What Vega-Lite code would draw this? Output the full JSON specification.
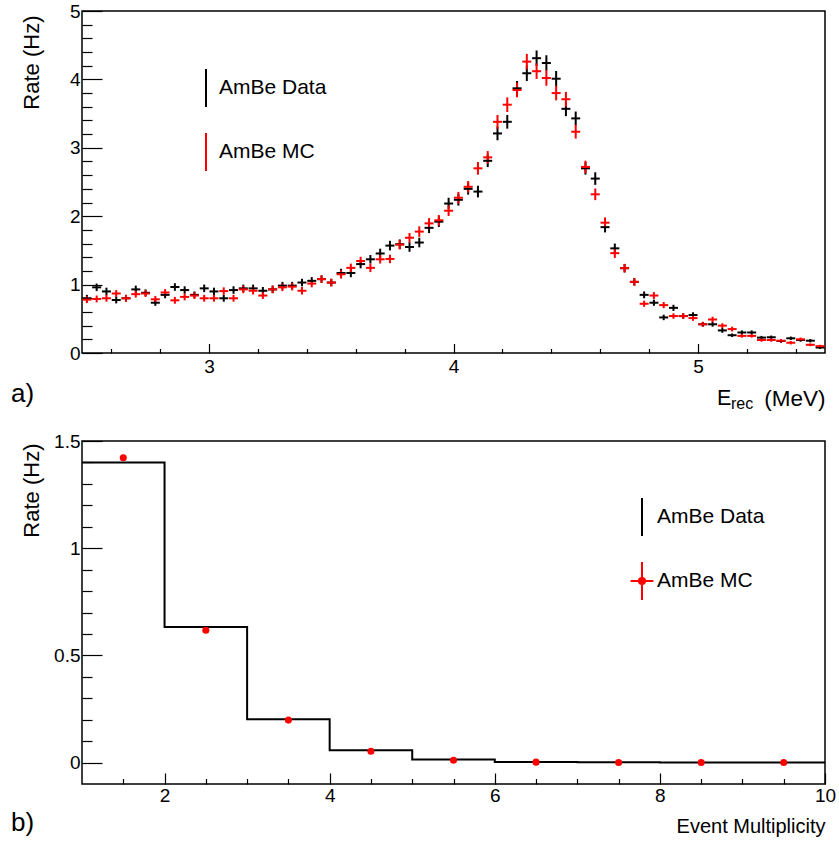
{
  "$schema": "https://vega.github.io/schema/vega-lite/v6.json",
  "padding": {"left": 10, "top": 1, "right": 2, "bottom": 2},
  "spacing": 18,
  "config": {
    "font": "Liberation Sans",
    "view": {"stroke": "#000000", "strokeWidth": 1.5},
    "axis": {"grid": false, "domain": false, "labelColor": "#000000", "labelFontSize": 19, "labelFont": "Liberation Sans", "titleFont": "Liberation Sans", "titleFontSize": 21, "titleFontWeight": "normal", "titleColor": "#000000", "tickColor": "#000000", "tickWidth": 1.2, "labelFlush": false, "labelOverlap": false, "labelBound": false, "tickCount": 200},
    "legend": {"labelFont": "Liberation Sans"}
  },
  "resolve": {"scale": {"color": "independent"}, "legend": {"color": "independent"}},
  "datasets": {
    "energy": [
      {"E":2.50,"rate":0.80,"err":0.05,"series":"AmBe Data"},
      {"E":2.54,"rate":0.96,"err":0.055,"series":"AmBe Data"},
      {"E":2.58,"rate":0.90,"err":0.055,"series":"AmBe Data"},
      {"E":2.62,"rate":0.775,"err":0.05,"series":"AmBe Data"},
      {"E":2.66,"rate":0.80,"err":0.05,"series":"AmBe Data"},
      {"E":2.70,"rate":0.93,"err":0.055,"series":"AmBe Data"},
      {"E":2.74,"rate":0.88,"err":0.05,"series":"AmBe Data"},
      {"E":2.78,"rate":0.735,"err":0.045,"series":"AmBe Data"},
      {"E":2.82,"rate":0.85,"err":0.05,"series":"AmBe Data"},
      {"E":2.86,"rate":0.965,"err":0.055,"series":"AmBe Data"},
      {"E":2.90,"rate":0.92,"err":0.055,"series":"AmBe Data"},
      {"E":2.94,"rate":0.85,"err":0.05,"series":"AmBe Data"},
      {"E":2.98,"rate":0.945,"err":0.055,"series":"AmBe Data"},
      {"E":3.02,"rate":0.90,"err":0.055,"series":"AmBe Data"},
      {"E":3.06,"rate":0.80,"err":0.05,"series":"AmBe Data"},
      {"E":3.10,"rate":0.92,"err":0.055,"series":"AmBe Data"},
      {"E":3.14,"rate":0.945,"err":0.055,"series":"AmBe Data"},
      {"E":3.18,"rate":0.945,"err":0.055,"series":"AmBe Data"},
      {"E":3.22,"rate":0.91,"err":0.055,"series":"AmBe Data"},
      {"E":3.26,"rate":0.93,"err":0.055,"series":"AmBe Data"},
      {"E":3.30,"rate":0.985,"err":0.055,"series":"AmBe Data"},
      {"E":3.34,"rate":0.985,"err":0.055,"series":"AmBe Data"},
      {"E":3.38,"rate":1.03,"err":0.055,"series":"AmBe Data"},
      {"E":3.42,"rate":1.055,"err":0.055,"series":"AmBe Data"},
      {"E":3.46,"rate":1.08,"err":0.055,"series":"AmBe Data"},
      {"E":3.50,"rate":1.03,"err":0.055,"series":"AmBe Data"},
      {"E":3.54,"rate":1.17,"err":0.062,"series":"AmBe Data"},
      {"E":3.58,"rate":1.17,"err":0.062,"series":"AmBe Data"},
      {"E":3.62,"rate":1.30,"err":0.062,"series":"AmBe Data"},
      {"E":3.66,"rate":1.37,"err":0.062,"series":"AmBe Data"},
      {"E":3.70,"rate":1.455,"err":0.07,"series":"AmBe Data"},
      {"E":3.74,"rate":1.57,"err":0.07,"series":"AmBe Data"},
      {"E":3.78,"rate":1.59,"err":0.07,"series":"AmBe Data"},
      {"E":3.82,"rate":1.55,"err":0.07,"series":"AmBe Data"},
      {"E":3.86,"rate":1.615,"err":0.07,"series":"AmBe Data"},
      {"E":3.90,"rate":1.83,"err":0.077,"series":"AmBe Data"},
      {"E":3.94,"rate":1.92,"err":0.077,"series":"AmBe Data"},
      {"E":3.98,"rate":2.185,"err":0.085,"series":"AmBe Data"},
      {"E":4.02,"rate":2.24,"err":0.085,"series":"AmBe Data"},
      {"E":4.06,"rate":2.40,"err":0.085,"series":"AmBe Data"},
      {"E":4.10,"rate":2.36,"err":0.085,"series":"AmBe Data"},
      {"E":4.14,"rate":2.81,"err":0.092,"series":"AmBe Data"},
      {"E":4.18,"rate":3.21,"err":0.1,"series":"AmBe Data"},
      {"E":4.22,"rate":3.38,"err":0.1,"series":"AmBe Data"},
      {"E":4.26,"rate":3.87,"err":0.107,"series":"AmBe Data"},
      {"E":4.30,"rate":4.09,"err":0.113,"series":"AmBe Data"},
      {"E":4.34,"rate":4.31,"err":0.113,"series":"AmBe Data"},
      {"E":4.38,"rate":4.24,"err":0.113,"series":"AmBe Data"},
      {"E":4.42,"rate":4.01,"err":0.113,"series":"AmBe Data"},
      {"E":4.46,"rate":3.57,"err":0.107,"series":"AmBe Data"},
      {"E":4.50,"rate":3.43,"err":0.1,"series":"AmBe Data"},
      {"E":4.54,"rate":2.70,"err":0.092,"series":"AmBe Data"},
      {"E":4.58,"rate":2.55,"err":0.092,"series":"AmBe Data"},
      {"E":4.62,"rate":1.84,"err":0.077,"series":"AmBe Data"},
      {"E":4.66,"rate":1.53,"err":0.07,"series":"AmBe Data"},
      {"E":4.70,"rate":1.24,"err":0.062,"series":"AmBe Data"},
      {"E":4.74,"rate":1.04,"err":0.055,"series":"AmBe Data"},
      {"E":4.78,"rate":0.85,"err":0.05,"series":"AmBe Data"},
      {"E":4.82,"rate":0.735,"err":0.045,"series":"AmBe Data"},
      {"E":4.86,"rate":0.52,"err":0.04,"series":"AmBe Data"},
      {"E":4.90,"rate":0.66,"err":0.045,"series":"AmBe Data"},
      {"E":4.94,"rate":0.54,"err":0.04,"series":"AmBe Data"},
      {"E":4.98,"rate":0.555,"err":0.04,"series":"AmBe Data"},
      {"E":5.02,"rate":0.42,"err":0.035,"series":"AmBe Data"},
      {"E":5.06,"rate":0.42,"err":0.035,"series":"AmBe Data"},
      {"E":5.10,"rate":0.33,"err":0.035,"series":"AmBe Data"},
      {"E":5.14,"rate":0.26,"err":0.025,"series":"AmBe Data"},
      {"E":5.18,"rate":0.30,"err":0.03,"series":"AmBe Data"},
      {"E":5.22,"rate":0.30,"err":0.03,"series":"AmBe Data"},
      {"E":5.26,"rate":0.225,"err":0.025,"series":"AmBe Data"},
      {"E":5.30,"rate":0.23,"err":0.025,"series":"AmBe Data"},
      {"E":5.34,"rate":0.175,"err":0.025,"series":"AmBe Data"},
      {"E":5.38,"rate":0.215,"err":0.025,"series":"AmBe Data"},
      {"E":5.42,"rate":0.19,"err":0.025,"series":"AmBe Data"},
      {"E":5.46,"rate":0.18,"err":0.025,"series":"AmBe Data"},
      {"E":5.50,"rate":0.08,"err":0.02,"series":"AmBe Data"},
      {"E":2.50,"rate":0.78,"err":0.05,"series":"AmBe MC"},
      {"E":2.54,"rate":0.79,"err":0.05,"series":"AmBe MC"},
      {"E":2.58,"rate":0.80,"err":0.05,"series":"AmBe MC"},
      {"E":2.62,"rate":0.87,"err":0.05,"series":"AmBe MC"},
      {"E":2.66,"rate":0.80,"err":0.05,"series":"AmBe MC"},
      {"E":2.70,"rate":0.86,"err":0.05,"series":"AmBe MC"},
      {"E":2.74,"rate":0.87,"err":0.05,"series":"AmBe MC"},
      {"E":2.78,"rate":0.785,"err":0.05,"series":"AmBe MC"},
      {"E":2.82,"rate":0.885,"err":0.05,"series":"AmBe MC"},
      {"E":2.86,"rate":0.77,"err":0.05,"series":"AmBe MC"},
      {"E":2.90,"rate":0.82,"err":0.05,"series":"AmBe MC"},
      {"E":2.94,"rate":0.84,"err":0.05,"series":"AmBe MC"},
      {"E":2.98,"rate":0.80,"err":0.05,"series":"AmBe MC"},
      {"E":3.02,"rate":0.80,"err":0.05,"series":"AmBe MC"},
      {"E":3.06,"rate":0.905,"err":0.055,"series":"AmBe MC"},
      {"E":3.10,"rate":0.80,"err":0.05,"series":"AmBe MC"},
      {"E":3.14,"rate":0.93,"err":0.055,"series":"AmBe MC"},
      {"E":3.18,"rate":0.91,"err":0.055,"series":"AmBe MC"},
      {"E":3.22,"rate":0.84,"err":0.05,"series":"AmBe MC"},
      {"E":3.26,"rate":0.93,"err":0.055,"series":"AmBe MC"},
      {"E":3.30,"rate":0.96,"err":0.055,"series":"AmBe MC"},
      {"E":3.34,"rate":0.97,"err":0.055,"series":"AmBe MC"},
      {"E":3.38,"rate":0.91,"err":0.055,"series":"AmBe MC"},
      {"E":3.42,"rate":1.015,"err":0.055,"series":"AmBe MC"},
      {"E":3.46,"rate":1.08,"err":0.055,"series":"AmBe MC"},
      {"E":3.50,"rate":1.03,"err":0.055,"series":"AmBe MC"},
      {"E":3.54,"rate":1.15,"err":0.062,"series":"AmBe MC"},
      {"E":3.58,"rate":1.245,"err":0.062,"series":"AmBe MC"},
      {"E":3.62,"rate":1.345,"err":0.062,"series":"AmBe MC"},
      {"E":3.66,"rate":1.245,"err":0.062,"series":"AmBe MC"},
      {"E":3.70,"rate":1.37,"err":0.062,"series":"AmBe MC"},
      {"E":3.74,"rate":1.375,"err":0.062,"series":"AmBe MC"},
      {"E":3.78,"rate":1.585,"err":0.07,"series":"AmBe MC"},
      {"E":3.82,"rate":1.685,"err":0.07,"series":"AmBe MC"},
      {"E":3.86,"rate":1.775,"err":0.077,"series":"AmBe MC"},
      {"E":3.90,"rate":1.895,"err":0.077,"series":"AmBe MC"},
      {"E":3.94,"rate":1.94,"err":0.077,"series":"AmBe MC"},
      {"E":3.98,"rate":2.08,"err":0.077,"series":"AmBe MC"},
      {"E":4.02,"rate":2.27,"err":0.085,"series":"AmBe MC"},
      {"E":4.06,"rate":2.43,"err":0.085,"series":"AmBe MC"},
      {"E":4.10,"rate":2.70,"err":0.092,"series":"AmBe MC"},
      {"E":4.14,"rate":2.86,"err":0.092,"series":"AmBe MC"},
      {"E":4.18,"rate":3.38,"err":0.1,"series":"AmBe MC"},
      {"E":4.22,"rate":3.63,"err":0.107,"series":"AmBe MC"},
      {"E":4.26,"rate":3.845,"err":0.107,"series":"AmBe MC"},
      {"E":4.30,"rate":4.26,"err":0.113,"series":"AmBe MC"},
      {"E":4.34,"rate":4.12,"err":0.113,"series":"AmBe MC"},
      {"E":4.38,"rate":4.02,"err":0.113,"series":"AmBe MC"},
      {"E":4.42,"rate":3.80,"err":0.107,"series":"AmBe MC"},
      {"E":4.46,"rate":3.71,"err":0.107,"series":"AmBe MC"},
      {"E":4.50,"rate":3.235,"err":0.1,"series":"AmBe MC"},
      {"E":4.54,"rate":2.72,"err":0.092,"series":"AmBe MC"},
      {"E":4.58,"rate":2.32,"err":0.085,"series":"AmBe MC"},
      {"E":4.62,"rate":1.905,"err":0.077,"series":"AmBe MC"},
      {"E":4.66,"rate":1.46,"err":0.07,"series":"AmBe MC"},
      {"E":4.70,"rate":1.24,"err":0.062,"series":"AmBe MC"},
      {"E":4.74,"rate":1.04,"err":0.055,"series":"AmBe MC"},
      {"E":4.78,"rate":0.72,"err":0.045,"series":"AmBe MC"},
      {"E":4.82,"rate":0.84,"err":0.05,"series":"AmBe MC"},
      {"E":4.86,"rate":0.70,"err":0.045,"series":"AmBe MC"},
      {"E":4.90,"rate":0.54,"err":0.04,"series":"AmBe MC"},
      {"E":4.94,"rate":0.54,"err":0.04,"series":"AmBe MC"},
      {"E":4.98,"rate":0.51,"err":0.04,"series":"AmBe MC"},
      {"E":5.02,"rate":0.42,"err":0.035,"series":"AmBe MC"},
      {"E":5.06,"rate":0.49,"err":0.04,"series":"AmBe MC"},
      {"E":5.10,"rate":0.40,"err":0.035,"series":"AmBe MC"},
      {"E":5.14,"rate":0.35,"err":0.035,"series":"AmBe MC"},
      {"E":5.18,"rate":0.25,"err":0.025,"series":"AmBe MC"},
      {"E":5.22,"rate":0.25,"err":0.025,"series":"AmBe MC"},
      {"E":5.26,"rate":0.19,"err":0.025,"series":"AmBe MC"},
      {"E":5.30,"rate":0.19,"err":0.025,"series":"AmBe MC"},
      {"E":5.34,"rate":0.18,"err":0.025,"series":"AmBe MC"},
      {"E":5.38,"rate":0.15,"err":0.025,"series":"AmBe MC"},
      {"E":5.42,"rate":0.20,"err":0.025,"series":"AmBe MC"},
      {"E":5.46,"rate":0.12,"err":0.02,"series":"AmBe MC"},
      {"E":5.50,"rate":0.10,"err":0.02,"series":"AmBe MC"}
    ],
    "multData": [
      {"m":1,"rate":1.40,"series":"AmBe Data"},
      {"m":2,"rate":0.632,"series":"AmBe Data"},
      {"m":3,"rate":0.202,"series":"AmBe Data"},
      {"m":4,"rate":0.057,"series":"AmBe Data"},
      {"m":5,"rate":0.014,"series":"AmBe Data"},
      {"m":6,"rate":0.003,"series":"AmBe Data"},
      {"m":7,"rate":0.001,"series":"AmBe Data"},
      {"m":8,"rate":0.0005,"series":"AmBe Data"},
      {"m":9,"rate":0.0002,"series":"AmBe Data"},
      {"m":10,"rate":0.0002,"series":"AmBe Data"}
    ],
    "multMC": [
      {"m":1.5,"rate":1.422,"series":"AmBe MC"},
      {"m":2.5,"rate":0.617,"series":"AmBe MC"},
      {"m":3.5,"rate":0.198,"series":"AmBe MC"},
      {"m":4.5,"rate":0.053,"series":"AmBe MC"},
      {"m":5.5,"rate":0.011,"series":"AmBe MC"},
      {"m":6.5,"rate":0.002,"series":"AmBe MC"},
      {"m":7.5,"rate":0.0005,"series":"AmBe MC"},
      {"m":8.5,"rate":0.0002,"series":"AmBe MC"},
      {"m":9.5,"rate":0.0001,"series":"AmBe MC"}
    ],
    "labelsTop": [
      {"label":"E"},
      {"label":"rec"},
      {"label":"a)"}
    ],
    "labelsBottom": [
      {"label":"b)"}
    ]
  },
  "vconcat": [
    {
      "width": 743,
      "height": 342,
      "layer": [
        {"data": {"name": "energy"},
         "mark": {"type": "errorbar", "rule": {"strokeWidth": 2}},
         "encoding": {
          "x": {"field": "E", "type": "quantitative",
            "scale": {"domain": [2.48, 5.52], "nice": false, "zero": false},
            "axis": {
              "values": [2.6, 2.8, 3, 3.2, 3.4, 3.6, 3.8, 4, 4.2, 4.4, 4.6, 4.8, 5, 5.2, 5.4],
              "format": "~g", "tickCount": 200,
              "labelExpr": "floor(datum.value) == datum.value ? datum.label : ''",
              "tickSize": {"condition": {"test": "floor(datum.value) == datum.value", "value": -9.5}, "value": -4.5},
              "labelPadding": 14,
              "title": "(MeV)", "titleAnchor": "end", "titleBaseline": "alphabetic", "titleY": 52, "titleFontSize": 22.5
            }
          },
          "y": {"field": "rate", "type": "quantitative",
            "scale": {"domain": [0, 5], "nice": false, "zero": false},
            "axis": {
              "values": [0, 0.2, 0.4, 0.6, 0.8, 1, 1.2, 1.4, 1.6, 1.8, 2, 2.2, 2.4, 2.6, 2.8, 3, 3.2, 3.4, 3.6, 3.8, 4, 4.2, 4.4, 4.6, 4.8, 5],
              "format": "~g", "tickCount": 200,
              "labelExpr": "floor(datum.value) == datum.value ? datum.label : ''",
              "tickSize": {"condition": {"test": "floor(datum.value) == datum.value", "value": -20}, "value": -10},
              "labelPadding": 22,
              "title": "Rate (Hz)", "titleAnchor": "end", "titleX": -39, "titleY": 4, "titleFontSize": 22
            }
          },
          "yError": {"field": "err"},
          "color": {"field": "series", "type": "nominal",
            "scale": {"domain": ["AmBe Data", "AmBe MC"], "range": ["#000000", "#ff0000"]},
            "legend": {
              "orient": "none", "legendX": 104, "legendY": 57, "title": null, "padding": 0,
              "symbolType": "M0,-1L0,1", "symbolSize": 1444, "symbolStrokeWidth": 2,
              "labelFontSize": 21, "labelColor": "#000000", "labelOffset": -7, "rowPadding": 18,
              "encode": {"symbols": {"update": {
                "shape": {"value": "M0,-1L0,1"},
                "size": {"value": 1444},
                "strokeWidth": {"value": 2},
                "opacity": {"value": 1},
                "stroke": {"signal": "datum.value == 'AmBe MC' ? '#ff0000' : '#000000'"},
                "fill": {"signal": "datum.value == 'AmBe MC' ? '#ff0000' : '#000000'"}
              }}}
            }
          }
         }},
        {"data": {"name": "energy"},
         "mark": {"type": "tick", "orient": "horizontal", "thickness": 2, "size": 9, "opacity": 1},
         "encoding": {
          "x": {"field": "E", "type": "quantitative", "scale": {"domain": [2.48, 5.52], "nice": false, "zero": false}},
          "y": {"field": "rate", "type": "quantitative", "scale": {"domain": [0, 5], "nice": false, "zero": false}},
          "color": {"field": "series", "type": "nominal"}
         }},
        {"data": {"name": "labelsTop"},
         "transform": [{"filter": "datum.label == 'E'"}],
         "mark": {"type": "text", "fontSize": 21.5, "align": "left", "baseline": "alphabetic", "color": "#000000"},
         "encoding": {
          "x": {"datum": 5.078, "type": "quantitative", "scale": {"domain": [2.48, 5.52], "nice": false, "zero": false}},
          "y": {"datum": -0.76, "type": "quantitative", "scale": {"domain": [0, 5], "nice": false, "zero": false}},
          "text": {"field": "label"}}},
        {"data": {"name": "labelsTop"},
         "transform": [{"filter": "datum.label == 'rec'"}],
         "mark": {"type": "text", "fontSize": 16, "align": "left", "baseline": "alphabetic", "color": "#000000"},
         "encoding": {
          "x": {"datum": 5.135, "type": "quantitative", "scale": {"domain": [2.48, 5.52], "nice": false, "zero": false}},
          "y": {"datum": -0.82, "type": "quantitative", "scale": {"domain": [0, 5], "nice": false, "zero": false}},
          "text": {"field": "label"}}},
        {"data": {"name": "labelsTop"},
         "transform": [{"filter": "datum.label == 'a)'"}],
         "mark": {"type": "text", "fontSize": 26, "align": "left", "baseline": "alphabetic", "color": "#000000"},
         "encoding": {
          "x": {"datum": 2.19, "type": "quantitative", "scale": {"domain": [2.48, 5.52], "nice": false, "zero": false}},
          "y": {"datum": -0.716, "type": "quantitative", "scale": {"domain": [0, 5], "nice": false, "zero": false}},
          "text": {"field": "label"}}}
      ]
    },
    {
      "width": 743,
      "height": 343,
      "layer": [
        {"data": {"name": "multData"},
         "mark": {"type": "line", "interpolate": "step-after", "strokeWidth": 2},
         "encoding": {
          "x": {"field": "m", "type": "quantitative",
            "scale": {"domain": [1, 10], "nice": false, "zero": false},
            "axis": {
              "values": [1.5, 2, 2.5, 3, 3.5, 4, 4.5, 5, 5.5, 6, 6.5, 7, 7.5, 8, 8.5, 9, 9.5, 10],
              "format": "~g", "tickCount": 200,
              "labelExpr": "datum.value % 2 == 0 ? datum.label : ''",
              "tickSize": {"condition": {"test": "datum.value % 2 == 0", "value": -11}, "value": -5.5},
              "labelPadding": 13,
              "title": "Event Multiplicity", "titleAnchor": "end", "titleBaseline": "alphabetic", "titleY": 48, "titleFontSize": 20
            }
          },
          "y": {"field": "rate", "type": "quantitative",
            "scale": {"domain": [-0.1, 1.5], "nice": false, "zero": false},
            "axis": {
              "values": [0, 0.1, 0.2, 0.3, 0.4, 0.5, 0.6, 0.7, 0.8, 0.9, 1, 1.1, 1.2, 1.3, 1.4, 1.5],
              "format": "~g", "tickCount": 200,
              "labelExpr": "round(datum.value * 2) == datum.value * 2 ? datum.label : ''",
              "tickSize": {"condition": {"test": "round(datum.value * 2) == datum.value * 2", "value": -20}, "value": -10},
              "labelPadding": 22,
              "title": "Rate (Hz)", "titleAnchor": "end", "titleX": -39, "titleY": 2, "titleFontSize": 22
            }
          },
          "color": {"field": "series", "type": "nominal",
            "scale": {"domain": ["AmBe Data", "AmBe MC"], "range": ["#000000", "#ff0000"]},
            "legend": {
              "orient": "none", "legendX": 540, "legendY": 56, "title": null, "padding": 0,
              "symbolType": "M0,-1L0,1", "symbolSize": 1444, "symbolStrokeWidth": 2,
              "labelFontSize": 21, "labelColor": "#000000", "labelOffset": -5, "rowPadding": 18,
              "encode": {"symbols": {"update": {
                "shape": {"signal": "datum.value == 'AmBe MC' ? 'M0,-1L0,1M-0.6,0L0.6,0M-0.16,0A0.16,0.16 0 1,0 0.16,0A0.16,0.16 0 1,0 -0.16,0Z' : 'M0,-1L0,1'"},
                "size": {"value": 1444},
                "strokeWidth": {"value": 2},
                "opacity": {"value": 1},
                "stroke": {"signal": "datum.value == 'AmBe MC' ? '#ff0000' : '#000000'"},
                "fill": {"signal": "datum.value == 'AmBe MC' ? '#ff0000' : '#000000'"}
              }}}
            }
          }
         }},
        {"data": {"name": "multMC"},
         "mark": {"type": "circle", "size": 50, "opacity": 1},
         "encoding": {
          "x": {"field": "m", "type": "quantitative", "scale": {"domain": [1, 10], "nice": false, "zero": false}},
          "y": {"field": "rate", "type": "quantitative", "scale": {"domain": [-0.1, 1.5], "nice": false, "zero": false}},
          "color": {"field": "series", "type": "nominal"}
         }},
        {"data": {"name": "labelsBottom"},
         "mark": {"type": "text", "fontSize": 26, "align": "left", "baseline": "alphabetic", "color": "#000000"},
         "encoding": {
          "x": {"datum": 0.14, "type": "quantitative", "scale": {"domain": [1, 10], "nice": false, "zero": false}},
          "y": {"datum": -0.321, "type": "quantitative", "scale": {"domain": [-0.1, 1.5], "nice": false, "zero": false}},
          "text": {"field": "label"}}}
      ]
    }
  ]
}
